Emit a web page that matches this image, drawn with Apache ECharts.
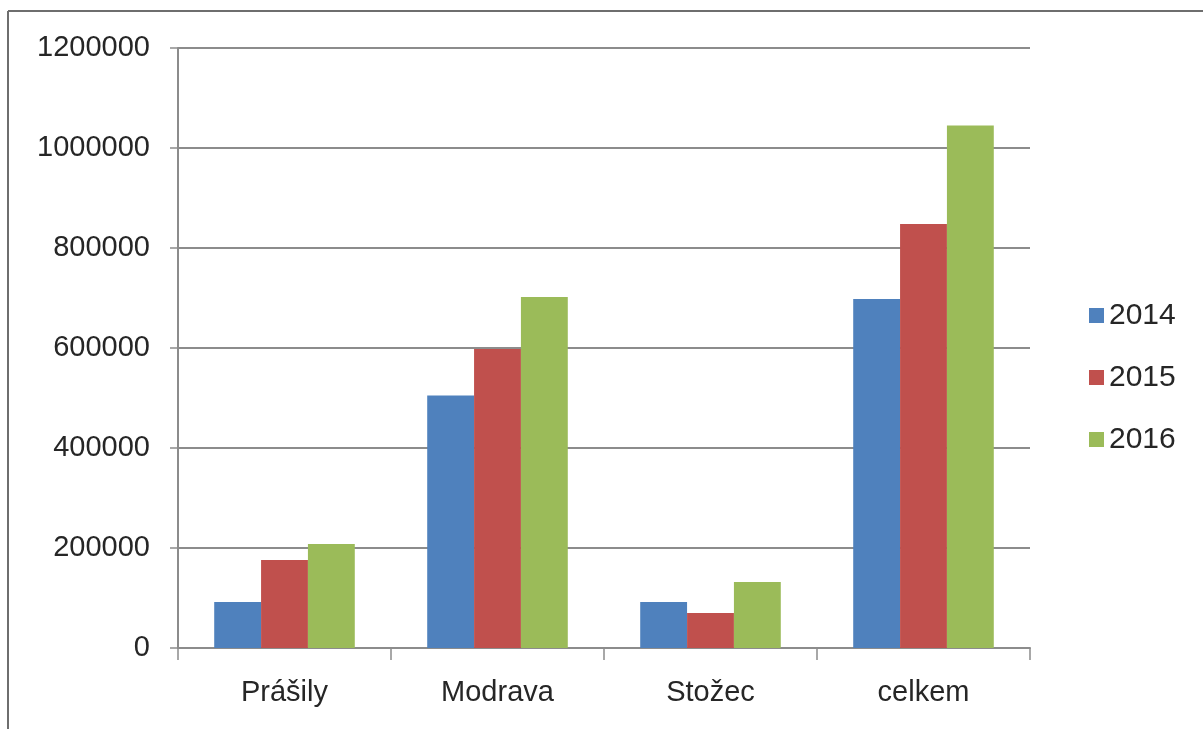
<!DOCTYPE html>
<html>
<head>
<meta charset="utf-8">
<script src="https://cdn.jsdelivr.net/npm/echarts@6/dist/echarts.min.js"></script>
<style>
html,body{margin:0;padding:0;background:#fff;}
#chart{width:1203px;height:729px;}
</style>
</head>
<body>
<div id="chart"></div>
<script>
const categories = ['Prášily', 'Modrava', 'Stožec', 'celkem'];
const seriesNames = ['2014', '2015', '2016'];
const values2014 = [92000, 505000, 92000, 698000];
const values2015 = [176000, 598000, 70000, 848000];
const values2016 = [208000, 702000, 132000, 1045000];
const yTicks = [0, 200000, 400000, 600000, 800000, 1000000, 1200000];

const colors = ['#4F81BD', '#C0504D', '#9BBB59'];
const allValues = [values2014, values2015, values2016];
const fontFamily = '"Liberation Sans", Arial, sans-serif';

const chart = echarts.init(document.getElementById('chart'));
chart.setOption({
  animation: false,
  backgroundColor: '#ffffff',
  color: colors,
  grid: { left: 178, right: 173, top: 48, bottom: 81, containLabel: false },
  legend: {
    orient: 'vertical',
    left: 1084,
    top: 295,
    itemWidth: 15,
    itemHeight: 15,
    itemGap: 31,
    icon: 'rect',
    textStyle: { fontSize: 30, color: '#262626', fontFamily: fontFamily, lineHeight: 31 },
    data: seriesNames
  },
  xAxis: {
    type: 'category',
    data: categories,
    axisLine: { lineStyle: { color: '#8c8c8c', width: 2 } },
    axisTick: { show: true, length: 12, lineStyle: { color: '#8c8c8c', width: 1.5 } },
    axisLabel: { fontSize: 29, color: '#262626', fontFamily: fontFamily, margin: 30 }
  },
  yAxis: {
    type: 'value',
    min: yTicks[0],
    max: yTicks[yTicks.length - 1],
    interval: yTicks[1] - yTicks[0],
    axisLine: { show: true, lineStyle: { color: '#8c8c8c', width: 2 } },
    axisTick: { show: true, length: 8, lineStyle: { color: '#8c8c8c', width: 1.5 } },
    splitLine: { lineStyle: { color: '#8c8c8c', width: 2 } },
    axisLabel: { fontSize: 29, color: '#262626', fontFamily: fontFamily, margin: 28, formatter: v => String(v) }
  },
  series: seriesNames.map((n, i) => ({
    name: n,
    type: 'bar',
    data: allValues[i],
    barGap: '0%',
    barCategoryGap: '34%',
    itemStyle: { color: colors[i] }
  })),
  graphic: [
    { type: 'line', shape: { x1: 8, y1: 11, x2: 1203, y2: 11 }, style: { stroke: '#6e6e6e', lineWidth: 2 } },
    { type: 'line', shape: { x1: 8, y1: 11, x2: 8, y2: 729 }, style: { stroke: '#6e6e6e', lineWidth: 2 } }
  ]
});
</script>
</body>
</html>
